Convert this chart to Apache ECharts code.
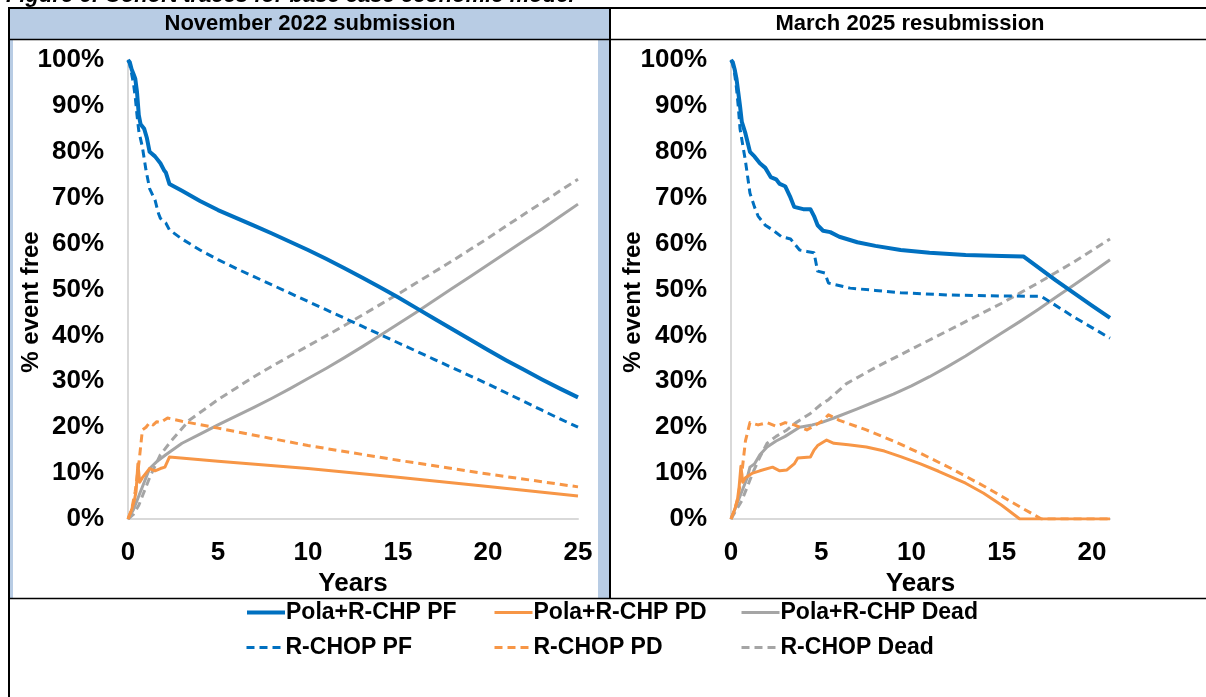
<!DOCTYPE html>
<html>
<head>
<meta charset="utf-8">
<script src="https://cdn.jsdelivr.net/npm/echarts@6/dist/echarts.min.js"></script>
<style>
  html, body { margin: 0; padding: 0; background: #fff; }
  #chart { width: 1206px; height: 697px; }
</style>
</head>
<body>
<div id="chart"></div>
<script>
// ---- Panel titles and legend names ----
const panelTitles = ['November 2022 submission', 'March 2025 resubmission'];
const seriesNames = [
  'Pola+R-CHP PF', 'Pola+R-CHP PD', 'Pola+R-CHP Dead',
  'R-CHOP PF', 'R-CHOP PD', 'R-CHOP Dead'
];
const xMaxNov = 25;
const xMaxMar = 21;

// ---- November 2022 submission (years, % of cohort) ----
const novPolaPF_t = [0, 0.1, 0.2, 0.3, 0.4, 0.5, 0.6, 0.7, 0.9, 1.05, 1.2, 1.5, 1.8, 2.0, 2.1, 2.3, 3, 4, 5, 6, 7, 8, 9, 10, 11, 12, 13, 14, 15, 16, 17, 18, 19, 20, 21, 22, 23, 24, 25];
const novPolaPF_v = [100, 99.5, 98, 97, 96, 93, 88, 86, 85, 83, 80, 79, 77.5, 76, 75.5, 73, 71.5, 69.3, 67.3, 65.6, 63.9, 62.2, 60.4, 58.6, 56.7, 54.7, 52.6, 50.5, 48.3, 46, 43.7, 41.4, 39.1, 36.8, 34.6, 32.5, 30.4, 28.4, 26.5];

const novRchopPF_t = [0, 0.1, 0.2, 0.3, 0.4, 0.5, 0.6, 0.8, 1.0, 1.2, 1.5, 1.7, 1.8, 2.1, 2.3, 3, 4, 5, 6, 7, 8, 9, 10, 11, 12, 13, 14, 15, 16, 17, 18, 19, 20, 21, 22, 23, 24, 25];
const novRchopPF_v = [100, 99, 97, 95, 92, 88, 84.5, 81, 76, 72, 69.5, 66.5, 65.5, 64.5, 63, 61, 58.6, 56.5, 54.6, 52.8, 51, 49.2, 47.4, 45.6, 43.8, 42, 40.2, 38.4, 36.6, 34.8, 33, 31.2, 29.4, 27.5, 25.6, 23.7, 21.8, 20];

const novPolaPD_t = [0, 0.2, 0.35, 0.45, 0.55, 0.65, 0.8, 1.0, 1.2, 1.5, 1.8, 2.05, 2.3, 5, 10, 15, 20, 25];
const novPolaPD_v = [0, 2, 4, 6, 12, 8, 9, 10, 11, 10.5, 11, 11.3, 13.5, 12.6, 11, 9.1, 7.1, 5];

const novRchopPD_t = [0, 0.2, 0.4, 0.6, 0.8, 1.0, 1.2, 1.4, 1.6, 1.8, 2.0, 2.2, 3, 5, 10, 15, 20, 25];
const novRchopPD_v = [0, 2, 6, 12, 19.4, 20, 21, 20.5, 21.2, 21, 21.5, 22, 21.3, 19.8, 16, 12.8, 9.8, 7];

const novPolaDead_t = [0, 0.3, 0.6, 0.9, 1.2, 1.6, 2.1, 3, 4, 5, 6, 7, 8, 9, 10, 11, 12, 13, 14, 15, 16, 17, 18, 19, 20, 21, 22, 23, 24, 25];
const novPolaDead_v = [0, 2, 5, 8, 11, 12.5, 14, 16.5, 18.5, 20.5, 22.4, 24.3, 26.3, 28.4, 30.6, 32.8, 35.1, 37.5, 40, 42.5, 45, 47.6, 50.2, 52.8, 55.4, 58, 60.6, 63.2, 65.9, 68.6];

const novRchopDead_t = [0, 0.3, 0.6, 0.9, 1.2, 1.5, 1.8, 2.4, 3.4, 5, 6, 7, 8, 9, 10, 11, 12, 13, 14, 15, 16, 17, 18, 19, 20, 21, 22, 23, 24, 25];
const novRchopDead_v = [0, 1, 3, 6, 9, 11.5, 14, 17, 21.5, 26, 28.5, 31, 33.3, 35.5, 37.7, 39.9, 42.1, 44.4, 46.7, 49, 51.4, 53.8, 56.2, 58.7, 61.2, 63.8, 66.4, 68.9, 71.5, 74];

// ---- March 2025 resubmission (years, % of cohort) ----
const marPolaPF_t = [0, 0.1, 0.2, 0.3, 0.4, 0.5, 0.6, 0.8, 1.05, 1.3, 1.6, 1.9, 2.2, 2.5, 2.7, 3.0, 3.3, 3.5, 4.0, 4.4, 4.6, 4.8, 5.1, 5.5, 6, 7, 8, 9.4, 11, 13, 15, 16.2, 18, 20, 21];
const marPolaPF_v = [100, 99.5, 98, 96, 93, 90, 86.5, 84, 80, 79, 77.5, 76.5, 74.5, 74, 73, 72.5, 70, 68, 67.5, 67.5, 66, 64, 62.8, 62.5, 61.5, 60.3, 59.5, 58.6, 58, 57.5, 57.3, 57.2, 52, 46.5, 43.8];

const marRchopPF_t = [0, 0.1, 0.2, 0.3, 0.4, 0.5, 0.8, 1.05, 1.3, 1.5, 1.9, 2.3, 2.8, 3.3, 3.8, 4.2, 4.6, 4.8, 5.2, 5.4, 6.6, 8, 9.4, 12, 15, 17.2, 19, 21];
const marRchopPF_v = [100, 99, 97, 94, 90, 85, 78, 71, 68, 66, 64, 63, 61.5, 61, 58.6, 58.3, 58, 54, 53.6, 51.4, 50.3, 49.8, 49.3, 48.8, 48.6, 48.5, 44, 39.4];

const marPolaPD_t = [0, 0.2, 0.35, 0.45, 0.55, 0.65, 0.8, 1.2, 1.6, 2.3, 2.7, 3.1, 3.5, 3.7, 4.4, 4.6, 4.8, 5.3, 5.7, 6.5, 7.5, 8.5, 9.4, 10.5, 11.5, 12.2, 13, 14, 15, 16, 18, 21];
const marPolaPD_v = [0, 2, 4, 7, 11.5, 8, 9, 10, 10.5, 11.3, 10.5, 10.7, 12, 13.3, 13.5, 15, 16, 17.2, 16.5, 16.2, 15.7, 14.8, 13.6, 12, 10.4, 9.2, 7.8, 5.6, 3, 0, 0, 0];

const marRchopPD_t = [0, 0.2, 0.4, 0.6, 0.8, 1.05, 1.5, 2, 2.5, 3, 3.5, 4.2, 4.7, 5.1, 5.4, 6, 7.5, 9, 10.5, 12.2, 14, 15.5, 17.2, 18, 21];
const marRchopPD_v = [0, 2, 5, 10, 17, 21, 20.5, 21, 20.2, 21, 20.5, 19.4, 20.5, 21.5, 22.7, 21.5, 19.4, 17, 14.3, 11, 7.2, 3.8, 0, 0, 0];

const marPolaDead_t = [0, 0.3, 0.6, 0.9, 1.05, 1.3, 1.6, 2, 2.5, 3, 3.8, 4.5, 5, 5.7, 7, 8, 9, 10, 11, 12, 13, 14, 15, 16, 17, 18, 19, 20, 21];
const marPolaDead_v = [0, 3, 6, 9, 11.3, 12, 14, 15.7, 17, 18, 20, 20.5, 21, 22, 24, 25.6, 27.2, 29, 31, 33.2, 35.5, 38, 40.5, 43, 45.6, 48.3, 51, 53.7, 56.5];

const marRchopDead_t = [0, 0.3, 0.6, 0.9, 1.2, 1.6, 2, 2.5, 3.1, 3.6, 4.4, 5, 5.4, 6.4, 8, 9, 10, 11, 12, 13, 14, 15, 16, 17, 18, 19, 20, 21];
const marRchopDead_v = [0, 2, 4, 7, 10, 13.5, 16.5, 18, 19.4, 21, 23, 25, 26, 29.5, 33, 35, 37, 39, 41, 43, 45, 47, 49.2, 51.4, 53.7, 56, 58.5, 61];

// ---- Styling ----
const FONT = '"Liberation Sans", Arial, sans-serif';
const BLUE = '#0070c0', ORANGE = '#f79646', GREY = '#a5a5a5';
const DASH = [8, 5];

function pairs(t, v) { return t.map((x, i) => [x, v[i]]); }

function makeSeries(name, t, v, color, dashed, width, gridIdx) {
  return {
    name: name,
    type: 'line',
    xAxisIndex: gridIdx,
    yAxisIndex: gridIdx,
    data: pairs(t, v),
    symbol: 'none',
    silent: true,
    color: color,
    lineStyle: { color: color, width: width, type: dashed ? DASH : 'solid', cap: 'butt', join: 'round' },
    z: 3
  };
}

const panels = [
  { idx: 0, data: [
    [seriesNames[2], novPolaDead_t, novPolaDead_v, GREY, false, 3],
    [seriesNames[5], novRchopDead_t, novRchopDead_v, GREY, true, 3],
    [seriesNames[1], novPolaPD_t, novPolaPD_v, ORANGE, false, 3],
    [seriesNames[4], novRchopPD_t, novRchopPD_v, ORANGE, true, 3],
    [seriesNames[3], novRchopPF_t, novRchopPF_v, BLUE, true, 3],
    [seriesNames[0], novPolaPF_t, novPolaPF_v, BLUE, false, 4]
  ]},
  { idx: 1, data: [
    [seriesNames[2], marPolaDead_t, marPolaDead_v, GREY, false, 3],
    [seriesNames[5], marRchopDead_t, marRchopDead_v, GREY, true, 3],
    [seriesNames[1], marPolaPD_t, marPolaPD_v, ORANGE, false, 3],
    [seriesNames[4], marRchopPD_t, marRchopPD_v, ORANGE, true, 3],
    [seriesNames[3], marRchopPF_t, marRchopPF_v, BLUE, true, 3],
    [seriesNames[0], marPolaPF_t, marPolaPF_v, BLUE, false, 4]
  ]}
];

const series = [];
panels.forEach(p => p.data.forEach(d => series.push(makeSeries(d[0], d[1], d[2], d[3], d[4], d[5], p.idx))));

const axisLineStyle = { color: '#d9d9d9', width: 2 };
const tickLabel = { color: '#000', fontFamily: FONT, fontWeight: 'bold', fontSize: 26 };

function xAxis(gridIndex, max) {
  return {
    type: 'value', gridIndex: gridIndex, min: 0, max: max, interval: 5,
    axisLine: { show: true, onZero: false, lineStyle: axisLineStyle },
    axisTick: { show: false },
    splitLine: { show: false },
    axisLabel: Object.assign({ margin: 21, showMaxLabel: max % 5 === 0,
      formatter: v => (v % 5 === 0 ? String(v) : '') }, tickLabel),
    name: 'Years', nameLocation: 'middle', nameGap: 43,
    nameTextStyle: tickLabel
  };
}
function yAxis(gridIndex) {
  return {
    type: 'value', gridIndex: gridIndex, min: 0, max: 100, interval: 10,
    axisLine: { show: true, lineStyle: axisLineStyle },
    axisTick: { show: false },
    splitLine: { show: false },
    axisLabel: Object.assign({ margin: 24, formatter: '{value}%' }, tickLabel)
  };
}

// One legend block per entry so the columns line up
const legendCols = [245, 493, 740];
const legendRows = [601, 636];
const legendOrder = [
  [seriesNames[0], 0, 0, 4], [seriesNames[1], 1, 0, 3], [seriesNames[2], 2, 0, 3],
  [seriesNames[3], 0, 1, 3], [seriesNames[4], 1, 1, 3], [seriesNames[5], 2, 1, 3]
];
const legends = legendOrder.map(([name, c, r, w]) => ({
  data: [name],
  left: legendCols[c], top: legendRows[r],
  itemWidth: 38, itemHeight: 22, itemGap: 0,
  selectedMode: false,
  padding: 0,
  itemStyle: { opacity: 0 },
  lineStyle: { width: w },
  textStyle: { color: '#000', fontFamily: FONT, fontWeight: 'bold', fontSize: 23, padding: [0, 0, 0, -4] }
}));

// Table frame, header cells, caption and rotated y titles
const BORDER = '#000';
const HEADER_BG = '#b8cce4';
const graphics = [
  { type: 'text', left: 6, top: -15, z: 10,
    style: { text: 'Figure 6: Cohort traces for base case economic model', fill: '#000',
      font: 'italic bold 22px ' + FONT } },
  { type: 'rect', shape: { x: 10, y: 9, width: 600, height: 30 }, style: { fill: HEADER_BG }, z: 0 },
  { type: 'rect', shape: { x: 10, y: 40, width: 3, height: 558 }, style: { fill: HEADER_BG }, z: 0 },
  { type: 'rect', shape: { x: 598, y: 40, width: 11, height: 558 }, style: { fill: HEADER_BG }, z: 0 },
  { type: 'line', shape: { x1: 8, y1: 8, x2: 1206, y2: 8 }, style: { stroke: BORDER, lineWidth: 2 }, z: 5 },
  { type: 'line', shape: { x1: 9, y1: 7, x2: 9, y2: 697 }, style: { stroke: BORDER, lineWidth: 2 }, z: 5 },
  { type: 'line', shape: { x1: 610, y1: 7, x2: 610, y2: 599 }, style: { stroke: BORDER, lineWidth: 2 }, z: 5 },
  { type: 'line', shape: { x1: 8, y1: 39.5, x2: 1206, y2: 39.5 }, style: { stroke: BORDER, lineWidth: 1.5 }, z: 5 },
  { type: 'line', shape: { x1: 8, y1: 598.5, x2: 1206, y2: 598.5 }, style: { stroke: BORDER, lineWidth: 1.5 }, z: 5 },
  { type: 'text', x: 310, y: 24, z: 10,
    style: { text: panelTitles[0], fill: '#000', font: 'bold 22px ' + FONT, align: 'center', verticalAlign: 'middle' } },
  { type: 'text', x: 910, y: 24, z: 10,
    style: { text: panelTitles[1], fill: '#000', font: 'bold 22px ' + FONT, align: 'center', verticalAlign: 'middle' } },
  { type: 'text', x: 31, y: 302, rotation: Math.PI / 2, z: 10,
    style: { text: '% event free', fill: '#000', font: 'bold 24px ' + FONT, align: 'center', verticalAlign: 'middle' } },
  { type: 'text', x: 633, y: 302, rotation: Math.PI / 2, z: 10,
    style: { text: '% event free', fill: '#000', font: 'bold 24px ' + FONT, align: 'center', verticalAlign: 'middle' } }
];

const chart = echarts.init(document.getElementById('chart'), null, { renderer: 'canvas' });
chart.setOption({
  animation: false,
  backgroundColor: '#fff',
  grid: [
    { left: 128, right: 1206 - 578, top: 60, bottom: 697 - 519 },
    { left: 731, right: 1206 - 1110, top: 60, bottom: 697 - 519 }
  ],
  xAxis: [xAxis(0, xMaxNov), xAxis(1, xMaxMar)],
  yAxis: [yAxis(0), yAxis(1)],
  legend: legends,
  graphic: graphics,
  series: series
});
</script>
</body>
</html>
